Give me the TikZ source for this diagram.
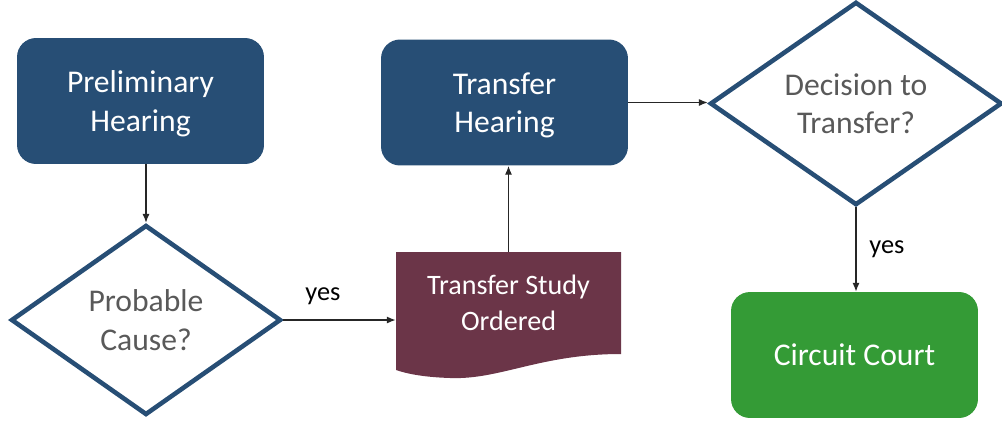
\documentclass[tikz,border=0pt]{standalone}
\usepackage{fontspec}
\setmainfont{Carlito}
\usetikzlibrary{arrows.meta, shapes, positioning}
\definecolor{azul}{HTML}{274E75}
\definecolor{vino}{HTML}{6B3548}
\definecolor{verde}{HTML}{349B36}
\definecolor{gris}{HTML}{595959}

\begin{document}
\begin{tikzpicture}[x=0.02cm, y=-0.02cm,
	caja/.style={rectangle, rounded corners=0.38cm, fill=azul, text=white, align=center,
		minimum width=4.94cm, minimum height=2.52cm, text depth=-3.2pt,
		font=\fontsize{18}{22}\selectfont},
	rombo/.style={diamond, draw=azul, line width=2.6pt, text=gris, align=center, inner sep=0pt,
		text depth=-2.6pt, font=\fontsize{18}{22}\selectfont},
	flecha/.style={-{Latex[length=5pt,width=4pt]}, line width=0.7pt, draw=black!85},
	etiqueta/.style={font=\fontsize{15}{18}\selectfont}]

	\useasboundingbox (0,0) rectangle (1002,424);

	% Documento (relleno)
	\fill[vino] (396,252) -- (621,252) -- (621,354)
		.. controls (540,354) and (500,380) .. (450,378)
		.. controls (420,377) and (405,373) .. (396,370) -- cycle;

	% Dibujar nodos
	\node[caja] (A) at (140.5,101) {Preliminary\\Hearing};
	\node[rombo, minimum width=5.4cm, minimum height=3.8cm] (B) at (146,320) {Probable\\Cause?};
	\node[rectangle, minimum width=4.5cm, minimum height=2.04cm, text=white, align=center,
		font=\fontsize{16}{20.4}\selectfont] (C) at (508.5,303) {Transfer Study\\Ordered};
	\node[caja] (D) at (504.5,102.5) {Transfer\\Hearing};
	\node[rombo, minimum width=5.84cm, minimum height=3.8cm] (E) at (856,103.5) {Decision to\\Transfer?};
	\node[caja, fill=verde] (F) at (854.5,355) {Circuit Court};

	% Dibujar las flechas
	\draw[flecha] (A.south -| B.north) -- (B.north);
	\draw[flecha] (B.east) -- (B.east -| C.west);
	\draw[flecha] (C.north) -- (C.north |- D.south);
	\draw[flecha] (D.east) -- (D.east -| E.west);
	\draw[flecha] (E.south) -- (E.south |- F.north);

	% Etiquetas
	\node[etiqueta] (Y1) at (323,296) {yes};
	\node[etiqueta] (Y2) at (887,249) {yes};

\end{tikzpicture}
\end{document}
